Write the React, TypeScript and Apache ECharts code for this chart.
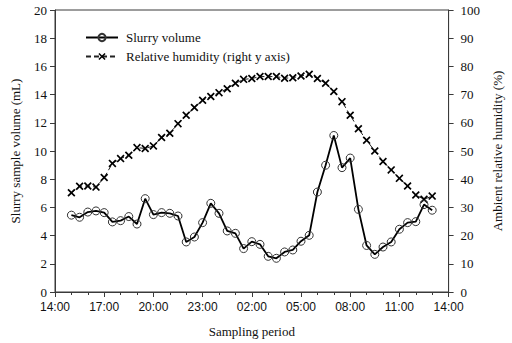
import React, { useEffect, useRef } from "react";
import * as echarts from "echarts";

const times = [
  "15:00", "15:30", "16:00", "16:30", "17:00", "17:30", "18:00", "18:30", "19:00", "19:30",
  "20:00", "20:30", "21:00", "21:30", "22:00", "22:30", "23:00", "23:30", "00:00", "00:30",
  "01:00", "01:30", "02:00", "02:30", "03:00", "03:30", "04:00", "04:30", "05:00", "05:30",
  "06:00", "06:30", "07:00", "07:30", "08:00", "08:30", "09:00", "09:30", "10:00", "10:30",
  "11:00", "11:30", "12:00", "12:30", "13:00",
];

const slurryVolume = [
  5.45, 5.3, 5.67, 5.75, 5.63, 4.97, 5.06, 5.35, 4.82, 6.62,
  5.49, 5.63, 5.58, 5.39, 3.55, 3.9, 4.92, 6.29, 5.58, 4.33,
  4.16, 3.08, 3.57, 3.38, 2.53, 2.39, 2.84, 2.98, 3.6, 4.02,
  7.09, 8.99, 11.1, 8.82, 9.5, 5.86, 3.3, 2.67, 3.19, 3.55,
  4.45, 4.92, 4.99, 6.2, 5.8,
];

const relativeHumidity = [
  35.2, 37.5, 37.6, 37.2, 40.6, 45.6, 47.3, 48.5, 51.2, 50.9,
  51.8, 54.8, 56.3, 59.7, 62.7, 65.4, 68.0, 69.3, 70.7, 72.1,
  74.0, 75.4, 75.7, 76.4, 76.4, 76.4, 75.8, 76.0, 76.6, 77.2,
  75.7, 74.0, 71.1, 67.5, 62.7, 57.9, 53.8, 50.0, 46.3, 43.3,
  40.3, 37.6, 34.4, 32.9, 34.0,
];

const xTickLabels = ["14:00", "17:00", "20:00", "23:00", "02:00", "05:00", "08:00", "11:00", "14:00"];

const START_HOUR = 14;
const toHours = (t: string) => {
  const [h, m] = t.split(":").map(Number);
  let v = h + m / 60 - START_HOUR;
  if (v < 0) v += 24;
  return v;
};

const SERIF = "Liberation Serif";
const SANS = "Liberation Sans";
const AXIS_COLOR = "#3a3a3a";
const CROSS = "path://M1.5,0 L5,3.5 L8.5,0 L10,1.5 L6.5,5 L10,8.5 L8.5,10 L5,6.5 L1.5,10 L0,8.5 L3.5,5 L0,1.5 Z";

export default function App() {
  const ref = useRef<HTMLDivElement>(null);
  useEffect(() => {
    document.body.style.margin = "0";
    if (!ref.current) return;
    const chart = echarts.init(ref.current, undefined, { renderer: "svg" });
    const slurryData = times.map((t, i) => [toHours(t), slurryVolume[i]]);
    const rhData = times.map((t, i) => [toHours(t), relativeHumidity[i]]);
    chart.setOption({
      animation: false,
      backgroundColor: "#ffffff",
      grid: {
        left: 55, right: 56, top: 10, bottom: 50,
        show: true, borderColor: AXIS_COLOR, borderWidth: 1, backgroundColor: "transparent",
      },
      legend: {
        orient: "vertical",
        left: 80,
        top: 26,
        itemGap: 6,
        itemWidth: 32,
        itemHeight: 9,
        textStyle: { fontFamily: SERIF, fontSize: 13, color: "#111", padding: [0, 0, 0, 3] },
        data: ["Slurry volume", "Relative humidity (right y axis)"],
      },
      xAxis: {
        type: "value",
        min: 0,
        max: 24,
        interval: 3,
        name: "Sampling period",
        nameLocation: "middle",
        nameGap: 33,
        nameTextStyle: { fontFamily: SERIF, fontSize: 13, color: "#111" },
        axisLine: { show: true, lineStyle: { color: AXIS_COLOR, width: 1 } },
        axisTick: { show: true, length: 5, lineStyle: { color: AXIS_COLOR } },
        minorTick: { show: true, splitNumber: 3, length: 3, lineStyle: { color: AXIS_COLOR } },
        splitLine: { show: false },
        axisLabel: {
          fontFamily: SANS, fontSize: 12, color: "#111", margin: 9,
          formatter: (v: number) => xTickLabels[Math.round(v / 3)] ?? "",
        },
      },
      yAxis: [
        {
          type: "value",
          min: 0, max: 20, interval: 2,
          position: "left",
          name: "Slurry sample volume (mL)",
          nameLocation: "middle",
          nameRotate: 90,
          nameGap: 33,
          nameTextStyle: { fontFamily: SERIF, fontSize: 13, color: "#111" },
          axisLine: { show: true, lineStyle: { color: AXIS_COLOR, width: 1 } },
          axisTick: { show: true, length: 5, lineStyle: { color: AXIS_COLOR } },
          splitLine: { show: false },
          axisLabel: { fontFamily: SERIF, fontSize: 13, color: "#111", margin: 8 },
        },
        {
          type: "value",
          min: 0, max: 100, interval: 10,
          position: "right",
          name: "Ambient relative humidity (%)",
          nameLocation: "middle",
          nameRotate: 90,
          nameGap: 34,
          nameTextStyle: { fontFamily: SERIF, fontSize: 13, color: "#111" },
          axisLine: { show: true, lineStyle: { color: AXIS_COLOR, width: 1 } },
          axisTick: { show: true, length: 5, lineStyle: { color: AXIS_COLOR } },
          splitLine: { show: false },
          axisLabel: { fontFamily: SERIF, fontSize: 13, color: "#111", margin: 12 },
        },
      ],
      series: [
        {
          name: "Slurry volume",
          type: "line",
          yAxisIndex: 0,
          data: slurryData,
          symbol: "circle",
          symbolSize: 8,
          showAllSymbol: true,
          lineStyle: { color: "#000", width: 1.8 },
          itemStyle: { color: "rgba(255,255,255,0)", borderColor: "#333", borderWidth: 1 },
          z: 3,
        },
        {
          name: "Relative humidity (right y axis)",
          type: "line",
          yAxisIndex: 1,
          data: rhData,
          symbol: CROSS,
          symbolSize: 8,
          showAllSymbol: true,
          lineStyle: { color: "#222", width: 1, type: [5, 3] },
          itemStyle: { color: "#000", borderWidth: 0 },
          z: 2,
        },
      ],
    });
    return () => chart.dispose();
  }, []);
  return <div ref={ref} style={{ width: 512, height: 343 }} />;
}
